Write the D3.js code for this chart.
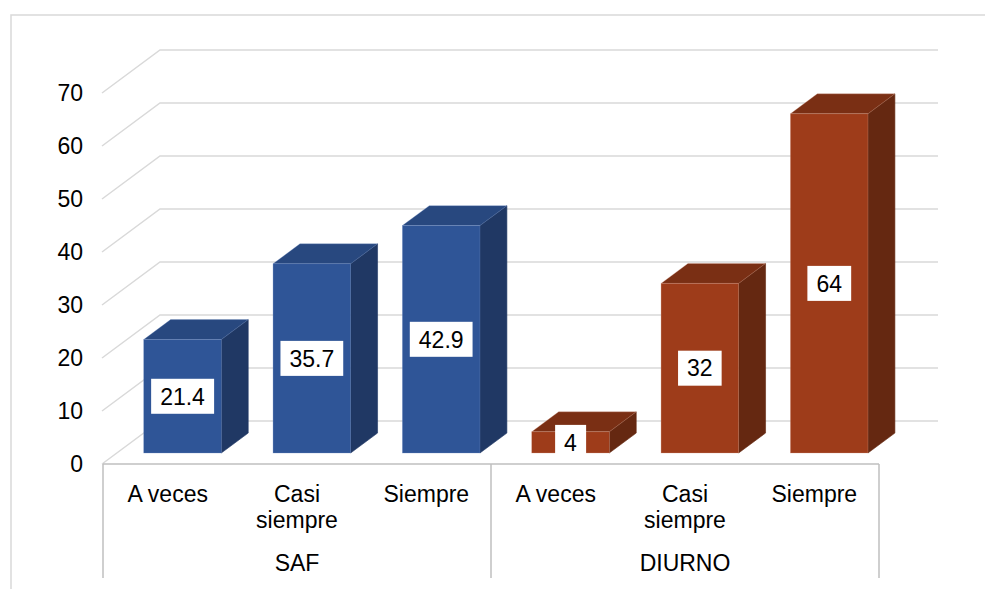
<!DOCTYPE html>
<html>
<head>
<meta charset="utf-8">
<script src="https://cdn.jsdelivr.net/npm/d3@7"></script>
<style>
  body { margin: 0; background: #fff; }
  svg { display: block; font-family: "Liberation Sans", Arial, sans-serif; }
</style>
</head>
<body>
<div id="chart"></div>
<script>
// data
const groups = ["SAF", "DIURNO"];
const categories = ["A veces", "Casi siempre", "Siempre"];
const safValues = [21.4, 35.7, 42.9];
const diurnoValues = [4, 32, 64];
const groupValues = [safValues, diurnoValues];

const width = 985, height = 589;

// flatten into one row per bar
const rows = [];
groups.forEach((g, gi) => {
  categories.forEach((c, ci) => {
    rows.push({ group: g, cat: c, key: g + "|" + c, value: groupValues[gi][ci] });
  });
});

const palette = {
  SAF: { front: "#2F5597", top: "#28487F", side: "#203864", edge: "#6f8cc4" },
  DIURNO: { front: "#9E3C1A", top: "#7A2F14", side: "#652811", edge: "#d49a86" }
};

// 3D frame
const floorY = 464;      // front floor line
const depthX = 58, depthY = 43;
const d0 = 0.256, d1 = 0.72; // bar depth inside the floor

const x = d3.scaleBand()
  .domain(rows.map(d => d.key))
  .range([103, 879])
  .paddingInner(0.4)
  .paddingOuter(0.2);

const y = d3.scaleLinear().domain([0, 70]).range([0, 371]);

// project (front x, value, depth) to screen
const px = (xv, d) => xv + d * depthX;
const py = (v, d) => floorY - y(v) - d * depthY;

const svg = d3.select("#chart").append("svg")
  .attr("width", width)
  .attr("height", height);

// outer border
svg.append("rect")
  .attr("x", 11).attr("y", 15)
  .attr("width", 990).attr("height", 600)
  .attr("fill", "none")
  .attr("stroke", "#d9d9d9")
  .attr("stroke-width", 1.5);

// gridlines: diagonal on the side wall + horizontal on the back wall
const grid = svg.append("g")
  .attr("fill", "none")
  .attr("stroke", "#d9d9d9")
  .attr("stroke-width", 1.5);

const ticks = y.ticks(7);
const x0 = 102, xBackEnd = 938;
ticks.forEach(t => {
  grid.append("polyline")
    .attr("points", [
      [x0, py(t, 0)],
      [px(x0, 1), py(t, 1)],
      [xBackEnd, py(t, 1)]
    ].map(p => p.join(",")).join(" "));
});

// tick labels
svg.append("g")
  .selectAll("text")
  .data(ticks)
  .join("text")
  .attr("x", 83)
  .attr("y", d => py(d, 0))
  .attr("dy", "0.35em")
  .attr("text-anchor", "end")
  .attr("font-size", 23)
  .attr("fill", "#000")
  .text(d => d);

// bars
const bars = svg.append("g")
  .selectAll("g")
  .data(rows)
  .join("g");

const poly = pts => pts.map(p => p.join(",")).join(" ");

bars.append("polygon") // side
  .attr("points", d => {
    const r = x(d.key) + x.bandwidth();
    return poly([
      [px(r, d0), py(d.value, d0)],
      [px(r, d1), py(d.value, d1)],
      [px(r, d1), py(0, d1)],
      [px(r, d0), py(0, d0)]
    ]);
  })
  .attr("fill", d => palette[d.group].side)
  .attr("stroke", d => palette[d.group].side)
  .attr("stroke-width", 0.6);

bars.append("polygon") // top
  .attr("points", d => {
    const l = x(d.key), r = l + x.bandwidth();
    return poly([
      [px(l, d0), py(d.value, d0)],
      [px(l, d1), py(d.value, d1)],
      [px(r, d1), py(d.value, d1)],
      [px(r, d0), py(d.value, d0)]
    ]);
  })
  .attr("fill", d => palette[d.group].top)
  .attr("stroke", d => palette[d.group].edge)
  .attr("stroke-opacity", 0.5)
  .attr("stroke-width", 0.6);

bars.append("rect") // front
  .attr("x", d => px(x(d.key), d0))
  .attr("y", d => py(d.value, d0))
  .attr("width", x.bandwidth())
  .attr("height", d => y(d.value))
  .attr("fill", d => palette[d.group].front)
  .attr("stroke", d => palette[d.group].edge)
  .attr("stroke-opacity", 0.5)
  .attr("stroke-width", 0.6);

// value labels
const labels = bars.append("g")
  .attr("transform", d => `translate(${px(x(d.key), d0) + x.bandwidth() / 2},${py(d.value / 2, d0)})`);

labels.append("text")
  .attr("text-anchor", "middle")
  .attr("dy", "0.36em")
  .attr("font-size", 23)
  .attr("fill", "#000")
  .text(d => d.value);

labels.each(function () {
  const g = d3.select(this);
  const bb = g.select("text").node().getBBox();
  g.insert("rect", "text")
    .attr("x", bb.x - 9)
    .attr("y", -17.5)
    .attr("width", bb.width + 18)
    .attr("height", 35)
    .attr("fill", "#fff");
});

// category axis (two-level)
const axis = svg.append("g")
  .attr("fill", "none")
  .attr("stroke", "#bfbfbf")
  .attr("stroke-width", 1.5);

axis.append("line")
  .attr("x1", 103).attr("x2", 879)
  .attr("y1", floorY).attr("y2", floorY);

const step = x.step();
const groupEdges = [103, 103 + step * categories.length, 879];
axis.selectAll("line.sep")
  .data(groupEdges)
  .join("line")
  .attr("class", "sep")
  .attr("x1", d => d).attr("x2", d => d)
  .attr("y1", floorY).attr("y2", 578);

const catCenter = d => x(d.key) + x.bandwidth() / 2;

svg.append("g")
  .selectAll("text")
  .data(rows)
  .join("text")
  .attr("x", catCenter)
  .attr("y", 502)
  .attr("text-anchor", "middle")
  .attr("font-size", 23)
  .attr("fill", "#000")
  .each(function (d) {
    const words = d.cat === "Casi siempre" ? ["Casi", "siempre"] : [d.cat];
    d3.select(this).selectAll("tspan")
      .data(words)
      .join("tspan")
      .attr("x", catCenter(d))
      .attr("dy", (w, i) => i === 0 ? 0 : 26)
      .text(w => w);
  });

svg.append("g")
  .selectAll("text")
  .data(groups)
  .join("text")
  .attr("x", (g, i) => (groupEdges[i] + groupEdges[i + 1]) / 2)
  .attr("y", 571)
  .attr("text-anchor", "middle")
  .attr("font-size", 23)
  .attr("fill", "#000")
  .text(g => g);
</script>
</body>
</html>
